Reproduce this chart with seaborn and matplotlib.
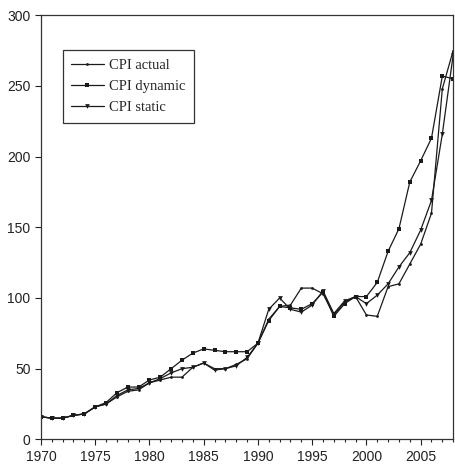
import matplotlib
matplotlib.use("Agg")
import matplotlib.pyplot as plt
from matplotlib.ticker import MultipleLocator
import seaborn as sns
import pandas as pd

years = list(range(1970, 2009))
cpi_actual = [16, 15, 15, 17, 18, 23, 25, 30, 34, 35, 40, 42, 44, 44, 51, 54, 50, 50, 53, 57,
              68, 85, 94, 95, 107, 107, 103, 88, 97, 101, 88, 87, 108, 110, 124, 138, 160, 248, 275]
cpi_dynamic = [16, 15, 15, 17, 18, 23, 26, 33, 37, 37, 42, 44, 50, 56, 61, 64, 63, 62, 62, 62,
               68, 84, 94, 93, 92, 96, 104, 87, 96, 101, 101, 111, 133, 149, 182, 197, 213, 257, 255]
cpi_static = [16, 15, 15, 17, 18, 23, 25, 31, 35, 36, 40, 43, 47, 50, 51, 54, 49, 50, 52, 58,
              68, 92, 100, 92, 90, 95, 105, 89, 98, 101, 96, 102, 110, 122, 132, 148, 169, 216, 272]
series_names = ["CPI actual", "CPI dynamic", "CPI static"]
x_ticks = [1970, 1975, 1980, 1985, 1990, 1995, 2000, 2005]
y_ticks = [0, 50, 100, 150, 200, 250, 300]

df = pd.DataFrame({"year": years * 3,
                   "value": cpi_actual + cpi_dynamic + cpi_static,
                   "series": [series_names[0]] * len(years) + [series_names[1]] * len(years)
                             + [series_names[2]] * len(years)})

sns.set_style("ticks")
plt.rcParams["font.family"] = ["Liberation Sans", "DejaVu Sans"]

fig = plt.figure(figsize=(4.55, 4.75), dpi=100)
ax = fig.add_axes([0.090, 0.075, 0.906, 0.893])

markers = {"CPI actual": "o", "CPI dynamic": "s", "CPI static": "v"}
sizes = {"CPI actual": 2.0, "CPI dynamic": 3.2, "CPI static": 3.4}
for name in series_names:
    sub = df[df["series"] == name]
    sns.lineplot(data=sub, x="year", y="value", ax=ax, color="#1a1a1a", lw=0.9,
                 marker=markers[name], markersize=sizes[name], markeredgewidth=0,
                 label=name)

ax.set_xlim(1970, 2008)
ax.set_ylim(0, 300)
ax.set_xticks(x_ticks)
ax.set_yticks(y_ticks)
ax.xaxis.set_minor_locator(MultipleLocator(1))
ax.tick_params(axis="both", which="major", direction="out", length=4, width=0.8,
               labelsize=10, colors="#222222")
ax.tick_params(axis="x", which="minor", direction="out", length=2.5, width=0.8)
ax.set_xlabel("")
ax.set_ylabel("")
for s in ax.spines.values():
    s.set_color("#333333")
    s.set_linewidth(0.9)

leg = ax.legend(loc="upper left", bbox_to_anchor=(0.035, 0.935), frameon=True,
                fancybox=False, edgecolor="#333333", framealpha=1,
                prop={"family": "Liberation Serif", "size": 10.5},
                handlelength=2.2, handletextpad=0.4, borderpad=0.6, labelspacing=0.55)
leg.get_frame().set_linewidth(0.9)

fig.savefig("out.png", dpi=100)
